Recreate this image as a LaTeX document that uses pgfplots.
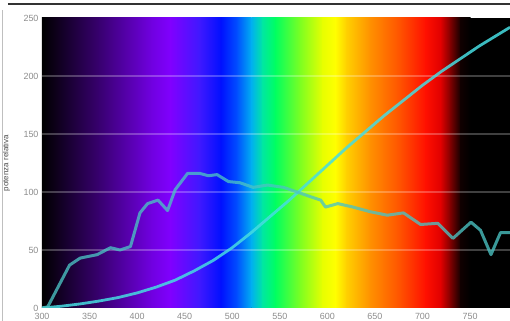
\documentclass[border=0pt]{standalone}
\usepackage{pgfplots}
\pgfplotsset{compat=1.18}
\usepackage{fontspec}
\setmainfont{Liberation Sans}
\definecolor{s01}{HTML}{000000}
\definecolor{s02}{HTML}{380070}
\definecolor{s03}{HTML}{7000E0}
\definecolor{s04}{HTML}{8000FF}
\definecolor{s05}{HTML}{4018FF}
\definecolor{s06}{HTML}{0010FF}
\definecolor{s07}{HTML}{0050FF}
\definecolor{s08}{HTML}{00B0F0}
\definecolor{s09}{HTML}{00E8A0}
\definecolor{s10}{HTML}{00FF60}
\definecolor{s11}{HTML}{80FF20}
\definecolor{s12}{HTML}{E8FF00}
\definecolor{s13}{HTML}{FFFF00}
\definecolor{s14}{HTML}{FFD000}
\definecolor{s15}{HTML}{FF9000}
\definecolor{s16}{HTML}{FF5000}
\definecolor{s17}{HTML}{FF1000}
\definecolor{s18}{HTML}{E00000}
\definecolor{s19}{HTML}{800000}
\definecolor{s20}{HTML}{100000}
\definecolor{s21}{HTML}{000000}
\definecolor{linec}{RGB}{75,195,195}
\definecolor{curvec}{RGB}{70,220,225}
\pgfplotstableread{
x y
300 0
306 1
329 37
340 43
358 46
372 52
382 50
393 53
403 82
411 90
422 93
432 84
440 102
453 116
466 116
475 114
484 115
496 109
508 108
522 104
537 106
554 104
568 100
582 96
593 93
598 87
611 90
627 87
645 83
663 80
680 82
698 72
716 73
732 60
751 74
761 67
772 46
782 65
792 65
}\spectrum
\pgfplotstableread{
x y
300 0
320 1.5
340 3.5
360 6
380 9
400 13
420 18
440 24
460 32
480 41
500 52
520 65
540 79
560 93
580 108
600 123
620 138
640 152
660 166
680 179
700 192
720 204
740 215
760 226
780 236
792 242
}\curve
\begin{document}
\begin{tikzpicture}
\begin{axis}[name=ax, scale only axis, width=468bp, height=290bp,
  xmin=300, xmax=792, ymin=0, ymax=250,
  xtick={300,350,...,750}, ytick={0,50,...,250},
  axis line style={draw=none}, major tick length=0pt,
  /pgf/number format/assume math mode=true,
  ticklabel style={font=\fontsize{9}{10}\selectfont, text=black!45},
  xticklabel style={yshift=-1.5bp},
  ylabel={potenza relativa},
  ylabel style={at={(axis description cs:-0.076,0.5)}, anchor=center, font=\fontsize{8}{9}\selectfont, text=black!70},
  clip=true]
\fill[s01] (axis cs:300,0) rectangle (axis cs:792,250);
\shade[left color=s01, right color=s02] (axis cs:300,0) rectangle (axis cs:360.5,250);
\shade[left color=s02, right color=s03] (axis cs:360,0) rectangle (axis cs:415.5,250);
\shade[left color=s03, right color=s04] (axis cs:415,0) rectangle (axis cs:435.5,250);
\shade[left color=s04, right color=s05] (axis cs:435,0) rectangle (axis cs:465.5,250);
\shade[left color=s05, right color=s06] (axis cs:465,0) rectangle (axis cs:488.5,250);
\shade[left color=s06, right color=s07] (axis cs:488,0) rectangle (axis cs:505.5,250);
\shade[left color=s07, right color=s08] (axis cs:505,0) rectangle (axis cs:520.5,250);
\shade[left color=s08, right color=s09] (axis cs:520,0) rectangle (axis cs:532.5,250);
\shade[left color=s09, right color=s10] (axis cs:532,0) rectangle (axis cs:545.5,250);
\shade[left color=s10, right color=s11] (axis cs:545,0) rectangle (axis cs:572.5,250);
\shade[left color=s11, right color=s12] (axis cs:572,0) rectangle (axis cs:595.5,250);
\shade[left color=s12, right color=s13] (axis cs:595,0) rectangle (axis cs:608.5,250);
\shade[left color=s13, right color=s14] (axis cs:608,0) rectangle (axis cs:620.5,250);
\shade[left color=s14, right color=s15] (axis cs:620,0) rectangle (axis cs:645.5,250);
\shade[left color=s15, right color=s16] (axis cs:645,0) rectangle (axis cs:677.5,250);
\shade[left color=s16, right color=s17] (axis cs:677,0) rectangle (axis cs:703.5,250);
\shade[left color=s17, right color=s18] (axis cs:703,0) rectangle (axis cs:719.5,250);
\shade[left color=s18, right color=s19] (axis cs:719,0) rectangle (axis cs:729.5,250);
\shade[left color=s19, right color=s20] (axis cs:729,0) rectangle (axis cs:740.5,250);
\shade[left color=s20, right color=s21] (axis cs:740,0) rectangle (axis cs:750.5,250);
\draw[white, opacity=0.25, line width=1.3bp] (axis cs:300,50) -- (axis cs:792,50);
\draw[white, opacity=0.25, line width=1.3bp] (axis cs:300,100) -- (axis cs:792,100);
\draw[white, opacity=0.25, line width=1.3bp] (axis cs:300,150) -- (axis cs:792,150);
\draw[white, opacity=0.25, line width=1.3bp] (axis cs:300,200) -- (axis cs:792,200);
\addplot[curvec, opacity=0.85, line width=2.8bp, line join=round] table[x=x,y=y] {\curve};
\addplot[linec, opacity=0.78, line width=3bp, line join=round] table[x=x,y=y] {\spectrum};
\end{axis}
\pgfresetboundingbox
\path[use as bounding box] ([xshift=-42bp,yshift=-13bp]ax.south west) rectangle ([yshift=18bp]ax.north east);
\draw[black!80, line width=1.6bp] ([xshift=-34bp,yshift=14bp]ax.north west) -- ([yshift=14bp]ax.north east);
\draw[gray!50, line width=1bp] ([xshift=-39bp,yshift=8bp]ax.north west) -- ([xshift=-39bp,yshift=-13bp]ax.south west);
\end{tikzpicture}
\end{document}
